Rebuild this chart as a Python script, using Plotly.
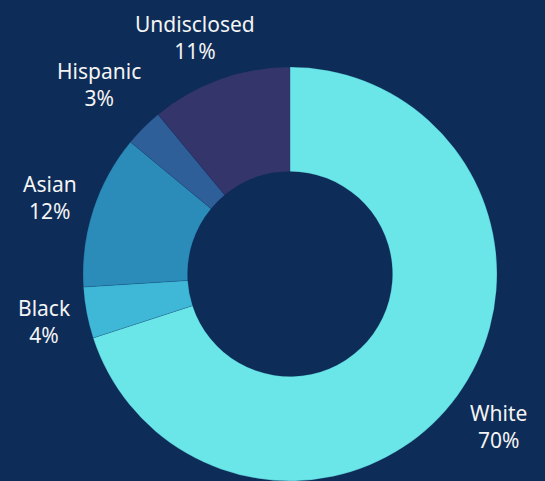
import math
import plotly.graph_objects as go

categories = ["White", "Black", "Asian", "Hispanic", "Undisclosed"]
values = [70, 4, 12, 3, 11]
colors = ["#6ae6e9", "#3fb7d6", "#2b8bb9", "#2e5f98", "#33356b"]

W, H = 545, 481
BG = "#0d2c58"
cx, cy, R = 290, 275, 207  # pixel centre / radius of the donut

fig = go.Figure(go.Pie(
    labels=categories, values=values, sort=False, direction="clockwise",
    rotation=0, hole=0.495, textinfo="none", hoverinfo="label+percent",
    marker=dict(colors=colors, line=dict(color="rgba(13,44,88,0.3)", width=0.6)),
    domain=dict(x=[(cx - R) / W, (cx + R) / W], y=[0, 2 * R / H]),
    showlegend=False,
))

# label placement: along each slice's mid-angle
label_r = {"White": 258, "Black": 250, "Asian": 252, "Hispanic": 270, "Undisclosed": 256}
angle_shift = {"Undisclosed": -2.0}
total = sum(values)
cum = 0
annotations = []
for cat, v in zip(categories, values):
    mid = (cum + v / 2) / total * 360.0 + angle_shift.get(cat, 0)
    cum += v
    r = label_r[cat]
    px = cx + r * math.sin(math.radians(mid))
    py = cy - r * math.cos(math.radians(mid))
    annotations.append(dict(
        x=px / W, y=1 - py / H, xref="paper", yref="paper",
        text=f"{cat}<br>{round(v / total * 100)}%", showarrow=False,
        font=dict(family="Noto Sans, Open Sans, sans-serif", size=21, color="#f4f4f4"),
        xanchor="center", yanchor="middle", align="center",
    ))

fig.update_layout(
    width=W, height=H, margin=dict(l=0, r=0, t=0, b=0),
    paper_bgcolor=BG, plot_bgcolor=BG, annotations=annotations,
)
fig.write_html(
    "out.html",
    config={"displayModeBar": False},
    post_script="document.body.style.margin='0px';document.body.style.background='#0d2c58';",
)
